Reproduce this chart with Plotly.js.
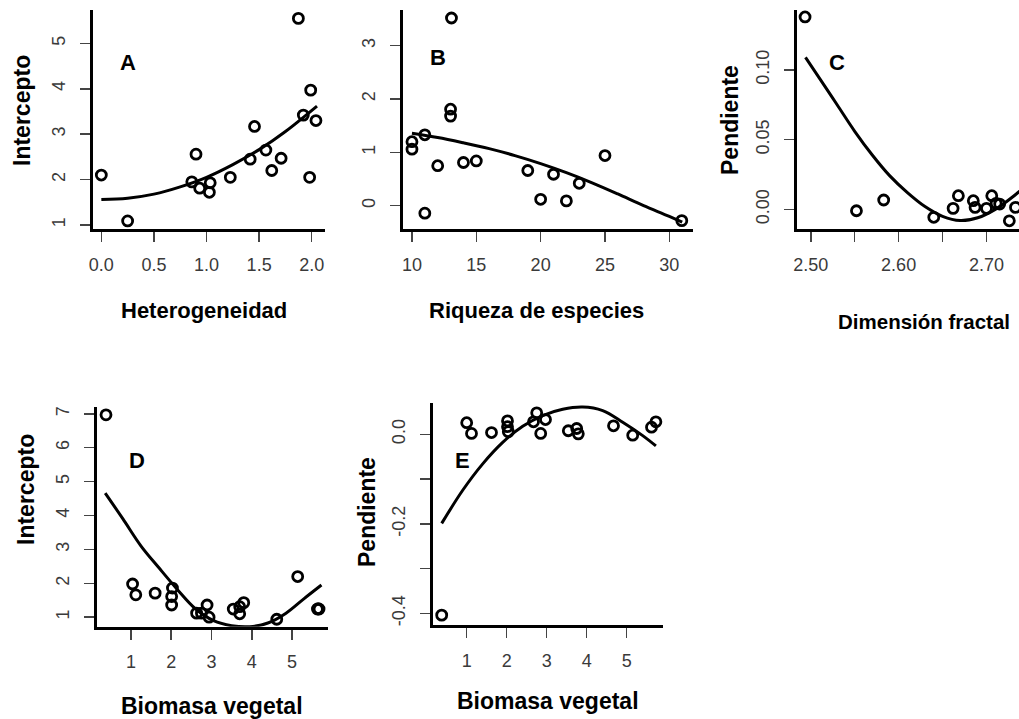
<!DOCTYPE html>
<html>
<head>
<meta charset="utf-8">
<script src="https://cdn.plot.ly/plotly-3.0.1.min.js"></script>
<style>html,body{margin:0;padding:0;background:#fff;}#chart{width:1019px;height:719px;}</style>
</head>
<body>
<div id="chart"></div>
<script>
// ---------- Panel A: Heterogeneidad vs Intercepto ----------
const aX = [0.0, 0.25, 0.90, 0.86, 0.935, 1.035, 1.027, 1.226, 1.456, 1.415, 1.564, 1.62, 1.709, 1.873, 1.92, 1.99, 2.04, 1.98];
const aY = [2.10, 1.09, 2.56, 1.95, 1.81, 1.93, 1.72, 2.05, 3.17, 2.45, 2.65, 2.20, 2.47, 5.55, 3.42, 3.97, 3.30, 2.05];
const aFitX = [0.0, 0.25, 0.5, 0.75, 1.0, 1.25, 1.5, 1.75, 2.05];
const aFitY = [1.56, 1.59, 1.68, 1.84, 2.05, 2.33, 2.66, 3.06, 3.62];
const aXTicks = [0, 0.5, 1.0, 1.5, 2.0];
const aXLabels = ['0.0', '0.5', '1.0', '1.5', '2.0'];
const aYTicks = [1, 2, 3, 4, 5];
const aYLabels = ['1', '2', '3', '4', '5'];

// ---------- Panel B: Riqueza de especies ----------
const bX = [10, 10, 11, 11, 12, 13.07, 13, 13, 14, 15, 19, 20, 21, 22, 23, 25, 30.97];
const bY = [1.20, 1.06, 1.33, -0.14, 0.75, 3.52, 1.81, 1.68, 0.81, 0.84, 0.66, 0.12, 0.59, 0.09, 0.42, 0.94, -0.28];
const bFitX = [10, 12, 14, 16, 18, 20, 22, 24, 26, 28, 30, 31];
const bFitY = [1.36, 1.28, 1.18, 1.07, 0.94, 0.79, 0.62, 0.43, 0.22, 0.0, -0.20, -0.31];
const bXTicks = [10, 15, 20, 25, 30];
const bXLabels = ['10', '15', '20', '25', '30'];
const bYTicks = [0, 1, 2, 3];
const bYLabels = ['0', '1', '2', '3'];

// ---------- Panel C: Dimensión fractal vs Pendiente ----------
const cX = [2.4935, 2.552, 2.583, 2.640, 2.662, 2.668, 2.685, 2.687, 2.700, 2.706, 2.711, 2.715, 2.726, 2.733, 2.742];
const cY = [0.138, -0.001, 0.0067, -0.0057, 0.0007, 0.0098, 0.0062, 0.0014, 0.0007, 0.0098, 0.0043, 0.0038, -0.0082, 0.0014, 0.006];
const cFitX = [2.494, 2.51, 2.53, 2.55, 2.57, 2.59, 2.61, 2.63, 2.65, 2.67, 2.69, 2.71, 2.73, 2.75];
const cFitY = [0.109, 0.094, 0.075, 0.056, 0.039, 0.024, 0.012, 0.002, -0.005, -0.008, -0.006, 0.000, 0.009, 0.020];
const cXTicks = [2.50, 2.55, 2.60, 2.65, 2.70, 2.75];
const cXLabels = ['2.50', '', '2.60', '', '2.70', ''];
const cYTicks = [0.00, 0.05, 0.10];
const cYLabels = ['0.00', '0.05', '0.10'];

// ---------- Panel D: Biomasa vegetal vs Intercepto ----------
const dX = [0.38, 1.04, 1.12, 1.60, 2.03, 2.01, 2.01, 2.63, 2.75, 2.89, 2.94, 3.54, 3.70, 3.70, 3.80, 4.62, 5.14, 5.63, 5.65, 5.67];
const dY = [6.97, 1.98, 1.66, 1.71, 1.86, 1.61, 1.36, 1.12, 1.12, 1.36, 1.00, 1.24, 1.10, 1.31, 1.43, 0.94, 2.20, 1.24, 1.25, 1.24];
const dFitX = [0.36, 0.8, 1.25, 1.7, 2.15, 2.6, 3.05, 3.5, 3.95, 4.4, 4.85, 5.3, 5.73];
const dFitY = [4.66, 3.90, 3.10, 2.45, 1.82, 1.25, 0.90, 0.75, 0.72, 0.83, 1.12, 1.55, 1.95];
const dXTicks = [1, 2, 3, 4, 5];
const dXLabels = ['1', '2', '3', '4', '5'];
const dYTicks = [1, 2, 3, 4, 5, 6, 7];
const dYLabels = ['1', '2', '3', '4', '5', '6', '7'];

// ---------- Panel E: Biomasa vegetal vs Pendiente ----------
const eX = [0.375, 1.0, 1.12, 1.62, 2.02, 2.02, 2.04, 2.67, 2.75, 2.97, 2.85, 3.54, 3.75, 3.79, 4.67, 5.15, 5.62, 5.73];
const eY = [-0.404, 0.026, 0.002, 0.004, 0.030, 0.017, 0.006, 0.028, 0.048, 0.033, 0.002, 0.008, 0.013, 0.001, 0.019, -0.002, 0.016, 0.028];
const eFitX = [0.375, 0.9, 1.4, 1.9, 2.4, 2.9, 3.4, 3.9, 4.4, 4.9, 5.4, 5.73];
const eFitY = [-0.199, -0.125, -0.066, -0.018, 0.018, 0.042, 0.056, 0.061, 0.053, 0.027, -0.003, -0.026];
const eXTicks = [1, 2, 3, 4, 5];
const eXLabels = ['1', '2', '3', '4', '5'];
const eYTicks = [-0.4, -0.3, -0.2, -0.1, 0.0];
const eYLabels = ['-0.4', '', '-0.2', '', '0.0'];

// ---------- layout helpers ----------
const W = 1019, H = 719;
const px = p => p / W;
const py = p => 1 - p / H;
const FONT = 'Liberation Sans, Arial, sans-serif';

function axis(d, range, vals, text, isY, anchor) {
  return {
    domain: d, range: range, anchor: anchor,
    showline: true, linecolor: '#000', linewidth: 3,
    ticks: 'outside', ticklen: 10, tickwidth: 1.5, tickcolor: '#444',
    tickmode: 'array', tickvals: vals, ticktext: text,
    tickfont: {family: FONT, size: 18, color: '#3a3a3a'},
    tickangle: isY ? -90 : 0,
    ticklabelstandoff: isY ? 8 : 7,
    showgrid: false, zeroline: false, fixedrange: true
  };
}

function pts(x, y, xa, ya) {
  return {x: x, y: y, xaxis: xa, yaxis: ya, type: 'scatter', mode: 'markers', cliponaxis: false,
    marker: {symbol: 'circle-open', size: 10, color: '#000', line: {width: 2.8, color: '#000'}}, hoverinfo: 'skip'};
}
function fit(x, y, xa, ya) {
  return {x: x, y: y, xaxis: xa, yaxis: ya, type: 'scatter', mode: 'lines',
    line: {color: '#000', width: 3, shape: 'spline', smoothing: 1}, hoverinfo: 'skip'};
}

const data = [
  fit(aFitX, aFitY, 'x', 'y'), pts(aX, aY, 'x', 'y'),
  fit(bFitX, bFitY, 'x2', 'y2'), pts(bX, bY, 'x2', 'y2'),
  fit(cFitX, cFitY, 'x3', 'y3'), pts(cX, cY, 'x3', 'y3'),
  fit(dFitX, dFitY, 'x4', 'y4'), pts(dX, dY, 'x4', 'y4'),
  fit(eFitX, eFitY, 'x5', 'y5'), pts(eX, eY, 'x5', 'y5')
];

function title(text, x, y, angle, size) {
  return {text: text, x: px(x), y: py(y), xref: 'paper', yref: 'paper', showarrow: false,
    xanchor: 'center', yanchor: 'middle', textangle: angle || 0,
    font: {family: FONT, size: size || 23, color: '#000', weight: 'bold'}};
}

const layout = {
  width: W, height: H, autosize: false, showlegend: false,
  margin: {l: 0, r: 0, t: 0, b: 0, pad: 0},
  paper_bgcolor: '#fff', plot_bgcolor: '#fff',
  xaxis:  axis([px(92.7), px(325)], [-0.082, 2.126], aXTicks, aXLabels, false, 'y'),
  yaxis:  axis([py(229), py(10)], [0.912, 5.735], aYTicks, aYLabels, true, 'x'),
  xaxis2: axis([px(402.7), px(693)], [9.28, 31.84], bXTicks, bXLabels, false, 'y2'),
  yaxis2: axis([py(229), py(10)], [-0.437, 3.67], bYTicks, bYLabels, true, 'x2'),
  xaxis3: axis([px(796.7), 1], [2.484, 2.737], cXTicks, cXLabels, false, 'y3'),
  yaxis3: axis([py(229), py(10)], [-0.0141, 0.143], cYTicks, cYLabels, true, 'x3'),
  xaxis4: axis([px(96.7), px(328.3)], [0.149, 5.9], dXTicks, dXLabels, false, 'y4'),
  yaxis4: axis([py(626.7), py(406.7)], [0.72, 7.21], dYTicks, dYLabels, true, 'x4'),
  xaxis5: axis([px(432.7), px(663.3)], [0.15, 5.915], eXTicks, eXLabels, false, 'y5'),
  yaxis5: axis([py(625), py(403.3)], [-0.426, 0.0693], eYTicks, eYLabels, true, 'x5'),
  annotations: [
    title('Heterogeneidad', 204, 310, 0, 22),
    title('Riqueza de especies', 536, 310, 0, 22),
    title('Dimensión fractal', 924, 321, 0, 20.5),
    title('Biomasa vegetal', 212, 706),
    title('Biomasa vegetal', 548, 701),
    title('Intercepto', 22, 111, -90),
    title('Pendiente', 730, 120, -90),
    title('Intercepto', 26, 490, -90),
    title('Pendiente', 367, 512, -90),
    title('A', 128, 62, 0, 22),
    title('B', 438, 57, 0, 22),
    title('C', 837, 62, 0, 22),
    title('D', 137, 460, 0, 22),
    title('E', 462, 460, 0, 22)
  ]
};

Plotly.newPlot('chart', data, layout, {displayModeBar: false, staticPlot: true});
</script>
</body>
</html>
